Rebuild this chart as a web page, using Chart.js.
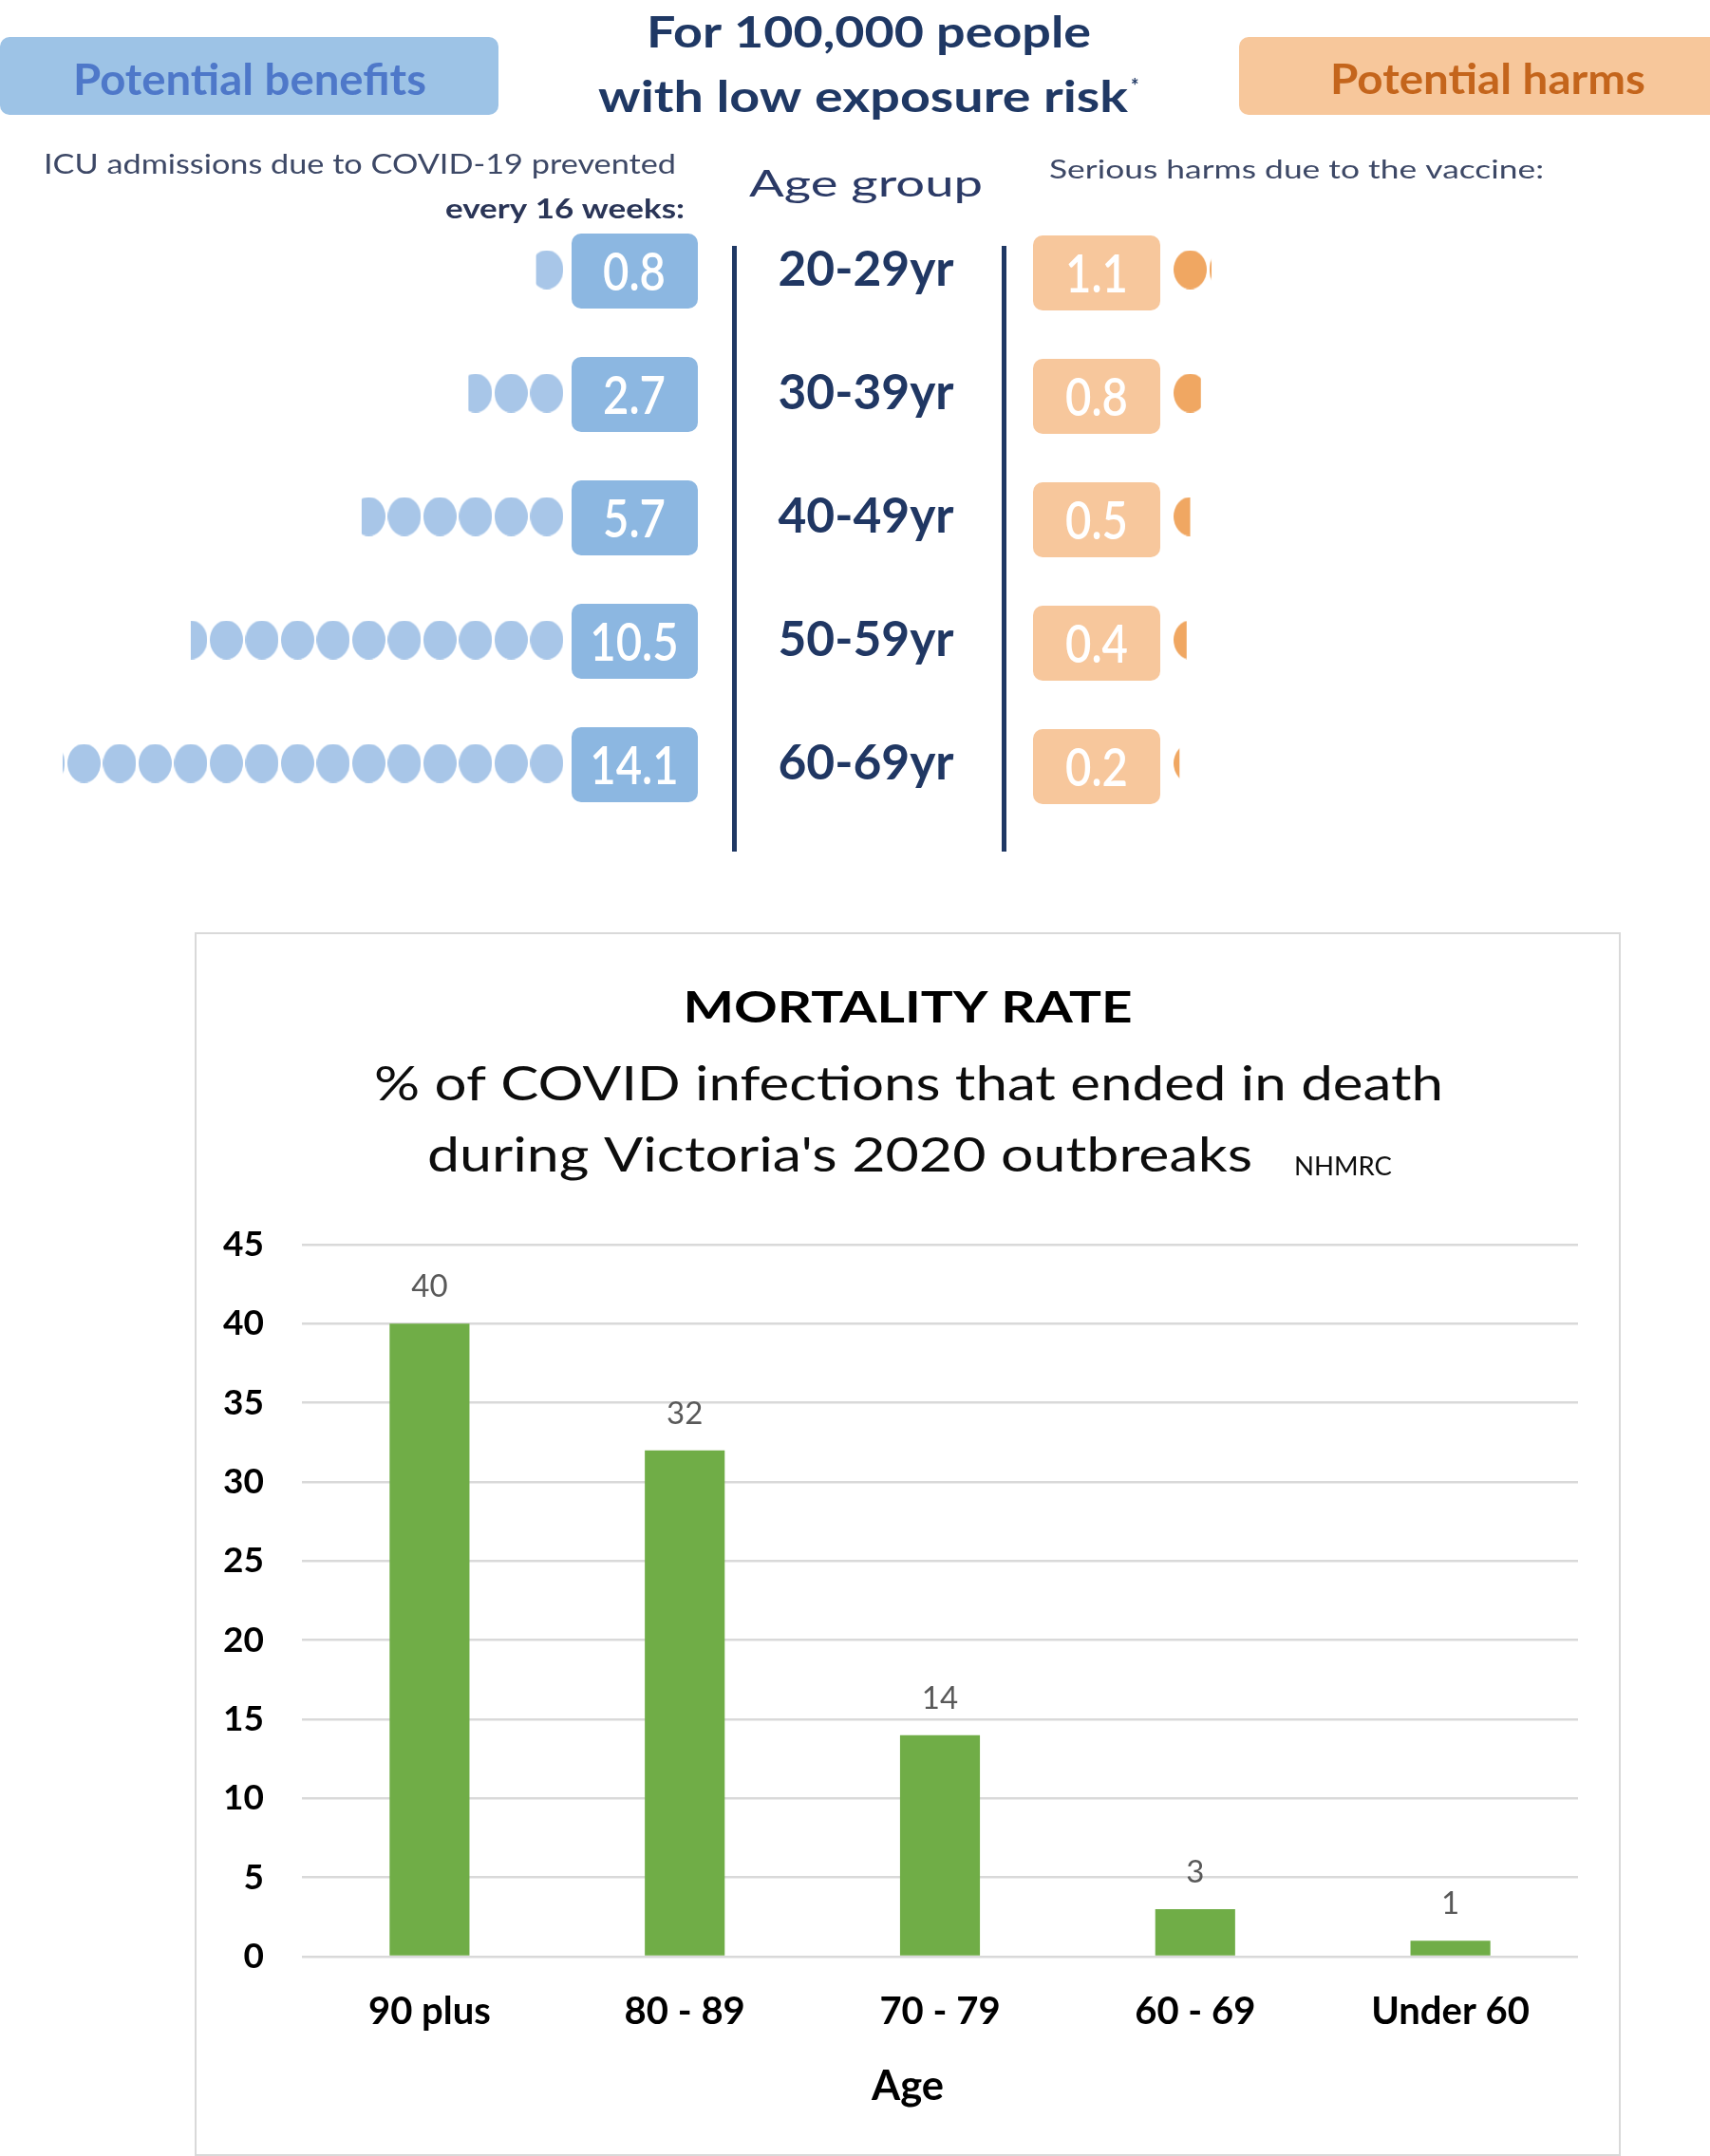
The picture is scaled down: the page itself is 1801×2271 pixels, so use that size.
<!DOCTYPE html>
<html>
<head>
<meta charset="utf-8">
<script src="https://cdn.jsdelivr.net/npm/chart.js@4"></script>
<style>
  html, body { margin: 0; padding: 0; background: #fff; }
  body { position: relative; width: 1801px; height: 2271px; overflow: hidden; }
  #top { position: absolute; left: 0; top: 0; width: 1801px; height: 930px; }
  #frame { position: absolute; left: 205px; top: 982px; width: 1502px; height: 1289px;
           border: 2px solid #D9D9D9; box-sizing: border-box; }
  #bottom { position: absolute; left: 206px; top: 983px; width: 1501px; height: 1287px; }
</style>
</head>
<body>
<div id="top"><canvas id="infographic"></canvas></div>
<div id="frame"></div>
<div id="bottom"><canvas id="mortality"></canvas></div>
<script>
// Data
const ageGroups = ["20-29yr", "30-39yr", "40-49yr", "50-59yr", "60-69yr"];
const icuPrevented = [0.8, 2.7, 5.7, 10.5, 14.1];
const seriousHarms = [1.1, 0.8, 0.5, 0.4, 0.2];

const mortalityAges = ["90 plus", "80 - 89", "70 - 79", "60 - 69", "Under 60"];
const mortalityRate = [40, 32, 14, 3, 1];

const FONT = "Lato, 'Noto Sans', sans-serif";
const NAVY = "#1F3864";

// Draw a text squeezed horizontally so it covers the given width.
function fitText(ctx, str, x, y, w, font, color, align) {
    ctx.save();
    ctx.font = font;
    let sx = w / ctx.measureText(str).width;
    drawScaled(ctx, str, x, y, sx, font, color, align);
    ctx.restore();
}

function drawScaled(ctx, str, x, y, sx, font, color, align) {
    ctx.save();
    ctx.font = font;
    ctx.fillStyle = color;
    ctx.textAlign = align;
    ctx.textBaseline = "alphabetic";
    ctx.translate(x, y);
    ctx.scale(sx, 1);
    ctx.fillText(str, 0, 0);
    ctx.restore();
}

function roundBox(ctx, x, y, w, h, r, color) {
    ctx.save();
    ctx.fillStyle = color;
    ctx.beginPath();
    ctx.roundRect(x, y, w, h, r);
    ctx.fill();
    ctx.restore();
}

// Oval dot used as point style
function dotImage(color) {
    let c = document.createElement("canvas");
    c.width = 35;
    c.height = 41;
    let g = c.getContext("2d");
    g.fillStyle = color;
    g.beginPath();
    g.ellipse(17.5, 20.5, 17.5, 20.5, 0, 0, Math.PI * 2);
    g.fill();
    return c;
}

// One dot per whole unit, the last one cut at the value by the clip plugin.
function dots(value, label) {
    let pts = [];
    for (let i = 0; i < Math.ceil(value); i++) {
        pts.push({x: i + 0.5, y: label});
    }
    return pts;
}

const UNIT = 38.3;        // px per dot
const BENEFIT_ZERO = 588; // px where the benefit dots start (growing left)
const HARM_ZERO = 1242;   // px where the harm dots start (growing right)
const TOP_W = 1801;

const blueDot = dotImage("#A8C6E8");
const orangeDot = dotImage("#F0A762");

let dotSets = [];
ageGroups.forEach((g, i) => {
    dotSets.push({data: dots(icuPrevented[i], g), limit: icuPrevented[i], xAxisID: "xb",
                  pointStyle: blueDot, pointRadius: 18, showLine: false});
    dotSets.push({data: dots(seriousHarms[i], g), limit: seriousHarms[i], xAxisID: "xh",
                  pointStyle: orangeDot, pointRadius: 18, showLine: false});
});

// Clip each row of dots at its value so the last dot shows the fraction.
const clipDots = {
    id: "clipDots",
    beforeDatasetDraw(chart, args) {
        let ds = chart.data.datasets[args.index];
        let sx = chart.scales[ds.xAxisID];
        let a = sx.getPixelForValue(0), b = sx.getPixelForValue(ds.limit);
        let ctx = chart.ctx;
        ctx.save();
        ctx.beginPath();
        ctx.rect(Math.min(a, b), 0, Math.abs(b - a), chart.height);
        ctx.clip();
    },
    afterDatasetDraw(chart) {
        chart.ctx.restore();
    }
};

const infographicText = {
    id: "infographicText",
    afterDraw(chart) {
        let ctx = chart.ctx;
        let yS = chart.scales.y;

        // header
        roundBox(ctx, 0, 39, 525, 82, 10, "#9DC3E6");
        roundBox(ctx, 1305, 39, 520, 82, 10, "#F7C79B");
        fitText(ctx, "Potential benefits", 77, 100, 372, `bold 46px ${FONT}`, "#4E78C9", "left");
        fitText(ctx, "Potential harms", 1401, 99, 332, `bold 44px ${FONT}`, "#C4651C", "left");
        fitText(ctx, "For 100,000 people", 915, 50, 468, `bold 45px ${FONT}`, NAVY, "center");
        fitText(ctx, "with low exposure risk", 630, 118, 558, `bold 45px ${FONT}`, NAVY, "left");
        drawScaled(ctx, "*", 1191, 98, 1, `bold 20px ${FONT}`, NAVY, "left");
        fitText(ctx, "ICU admissions due to COVID-19 prevented", 712, 183, 666, `28px ${FONT}`, "#3D4866", "right");
        fitText(ctx, "every 16 weeks:", 721, 230, 252, `bold 28px ${FONT}`, "#2A3557", "right");
        fitText(ctx, "Age group", 789, 207, 246, `38px ${FONT}`, "#2B3A66", "left");
        fitText(ctx, "Serious harms due to the vaccine:", 1105, 188, 521, `27px ${FONT}`, "#3D4866", "left");

        // separators
        ctx.fillStyle = NAVY;
        ctx.fillRect(771, 259, 5, 638);
        ctx.fillRect(1055, 259, 5, 638);

        // value boxes and age labels
        let valFont = `600 55px ${FONT}`;
        let ageFont = `bold 51px ${FONT}`;
        ctx.font = valFont;
        let valScale = 66 / ctx.measureText("0.8").width;
        ctx.font = ageFont;
        let ageScale = 185 / ctx.measureText("20-29yr").width;

        ageGroups.forEach((g, i) => {
            let cy = yS.getPixelForValue(i);
            roundBox(ctx, 602, cy - 38, 133, 79, 10, "#8CB7E1");
            roundBox(ctx, 1088, cy - 36, 134, 79, 10, "#F7C79C");
            drawScaled(ctx, icuPrevented[i].toFixed(1), 668, cy + 22, valScale, valFont, "#fff", "center");
            drawScaled(ctx, seriousHarms[i].toFixed(1), 1155, cy + 24, valScale, valFont, "#fff", "center");
            drawScaled(ctx, g, 912, cy + 17, ageScale, ageFont, "#203763", "center");
        });
    }
};

new Chart(document.getElementById("infographic"), {
    type: "scatter",
    data: {datasets: dotSets},
    options: {
        responsive: true,
        maintainAspectRatio: false,
        animation: false,
        events: [],
        layout: {padding: {top: 219, bottom: 61, left: 0, right: 0}},
        plugins: {legend: {display: false}, tooltip: {enabled: false}},
        scales: {
            xb: {type: "linear", axis: "x", position: "bottom", display: false, reverse: true,
                 min: -(TOP_W - BENEFIT_ZERO) / UNIT, max: BENEFIT_ZERO / UNIT},
            xh: {type: "linear", axis: "x", position: "bottom", display: false,
                 min: -HARM_ZERO / UNIT, max: (TOP_W - HARM_ZERO) / UNIT},
            y: {type: "category", labels: ageGroups, offset: true, display: false}
        }
    },
    plugins: [clipDots, infographicText]
});

// Bottom chart
const barLabels = {
    id: "barLabels",
    afterDatasetsDraw(chart) {
        let ctx = chart.ctx;
        let meta = chart.getDatasetMeta(0);
        ctx.save();
        ctx.font = `33px ${FONT}`;
        ctx.fillStyle = "#595959";
        ctx.textAlign = "center";
        ctx.textBaseline = "alphabetic";
        meta.data.forEach((bar, i) => {
            ctx.fillText(String(mortalityRate[i]), bar.x, bar.y - 28);
        });
        ctx.restore();
    }
};

const mortalityTitle = {
    id: "mortalityTitle",
    afterDraw(chart) {
        let ctx = chart.ctx;
        let ox = 206, oy = 983;
        fitText(ctx, "MORTALITY RATE", 956 - ox, 1077 - oy, 473, `bold 45px ${FONT}`, "#000", "center");
        fitText(ctx, "% of COVID infections that ended in death", 394 - ox, 1159 - oy, 1126, `50px ${FONT}`, "#0D0D0D", "left");
        fitText(ctx, "during Victoria's 2020 outbreaks", 450 - ox, 1234 - oy, 869, `50px ${FONT}`, "#0D0D0D", "left");
        fitText(ctx, "NHMRC", 1363 - ox, 1238 - oy, 103, `26px ${FONT}`, "#0D0D0D", "left");
        // x axis title, centred on the frame like the reference
        fitText(ctx, "Age", 956 - ox, 2212 - oy, 76, `bold 43px ${FONT}`, "#000", "center");
    }
};

new Chart(document.getElementById("mortality"), {
    type: "bar",
    data: {
        labels: mortalityAges,
        datasets: [{
            data: mortalityRate,
            backgroundColor: "#70AD47",
            categoryPercentage: 1,
            barPercentage: 0.313
        }]
    },
    options: {
        responsive: true,
        maintainAspectRatio: false,
        animation: false,
        events: [],
        layout: {padding: {top: 328, right: 45, left: 0, bottom: 0}},
        plugins: {legend: {display: false}, tooltip: {enabled: false}},
        scales: {
            x: {
                grid: {display: false, drawTicks: false},
                border: {display: false},
                ticks: {color: "#000", padding: 34, font: {family: FONT, size: 40, weight: "bold"}},
                afterFit(scale) { scale.height = 209; }
            },
            y: {
                min: 0,
                max: 45,
                grid: {color: "#D9D9D9", lineWidth: 2.5, drawTicks: false},
                border: {display: false},
                ticks: {stepSize: 5, color: "#000", padding: 40, font: {family: FONT, size: 37, weight: "bold"}},
                afterFit(scale) { scale.width = 112; }
            }
        }
    },
    plugins: [barLabels, mortalityTitle]
});
</script>
</body>
</html>
